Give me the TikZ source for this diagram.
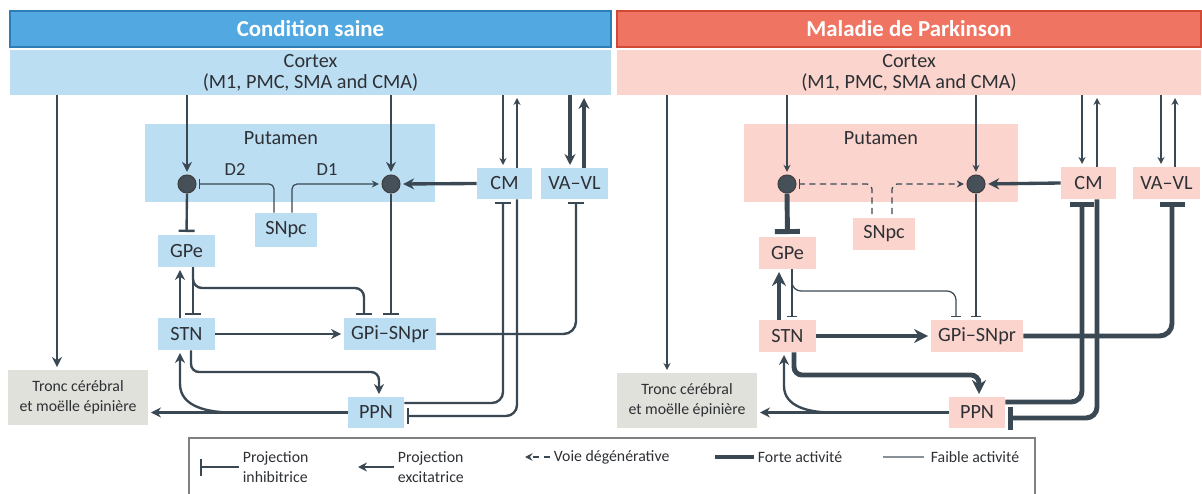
\documentclass[tikz,border=0pt]{standalone}
\usepackage{fontspec}
\setmainfont{Carlito}
\usetikzlibrary{arrows.meta}

\definecolor{bleuFonce}{RGB}{82,168,224}
\definecolor{bleuBord}{RGB}{47,125,181}
\definecolor{bleuClair}{RGB}{188,222,243}
\definecolor{rougeFonce}{RGB}{240,116,98}
\definecolor{rougeBord}{RGB}{208,74,54}
\definecolor{roseClair}{RGB}{250,212,205}
\definecolor{grisBoite}{RGB}{225,225,219}
\definecolor{grisCadre}{RGB}{128,128,128}
\definecolor{trait}{RGB}{58,72,83}
\definecolor{texte}{RGB}{45,48,52}
\definecolor{neurone}{RGB}{70,80,88}

\tikzset{
  titre/.style 2 args={fill=#1, draw=#2, line width=0.8pt, text=white, inner sep=0pt,
    font=\fontsize{13pt}{15pt}\selectfont\bfseries},
  zone/.style={fill=#1, inner sep=0pt, align=center, text=texte,
    font=\fontsize{11.5pt}{12pt}\selectfont},
  taille/.style 2 args={minimum width=#1*0.02cm, minimum height=#2*0.02cm},
  etiq/.style={inner sep=0pt, text=texte, font=\fontsize{11.5pt}{12pt}\selectfont},
  tronc/.style={zone=grisBoite, font=\fontsize{9pt}{11.3pt}\selectfont},
  legende/.style={inner sep=2pt, align=left, text=texte, font=\fontsize{9pt}{11.3pt}\selectfont},
  neurone/.style={circle, fill=neurone, draw=black!75, line width=0.6pt,
    minimum size=0.36cm, inner sep=0pt},
  % line weights
  faible/.style={draw=trait, line width=0.7pt},
  moyen/.style={draw=trait, line width=1.35pt},
  fort/.style={draw=trait, line width=1.9pt},
  tresfort/.style={draw=trait, line width=2.8pt},
  pointille/.style={dash pattern=on 3.5pt off 2.5pt},
  % projections
  exc/.style={-{Stealth[length=#1, width=#1]}, shorten >=1.5pt},
  exc/.default=0.2cm,
  inh/.style={-{Bar[width=#1]}, shorten >=1.5pt},
  inh/.default=0.32cm
}

\begin{document}
\begin{tikzpicture}[x=0.02cm, y=-0.02cm]
  \useasboundingbox (0,0) rectangle (1202,493);

  % ================= Condition saine =================
  \node[titre={bleuFonce}{bleuBord}, taille={601}{36}] (titreL) at (310.5,29) {Condition saine};
  \node[zone=bleuClair, taille={601}{45}] (ctxL) at (310.5,72.5) {Cortex\\(M1, PMC, SMA and CMA)};
  \node[zone=bleuClair, taille={290}{78}] (putL) at (290,163) {};
  \node[etiq] (putLlab) at (281,138) {Putamen};
  \node[neurone] (nL1) at (187,184) {};
  \node[neurone] (nL2) at (391,184) {};
  \node[etiq, font=\fontsize{10.5pt}{12pt}\selectfont] (d2L) at (235,170) {D2};
  \node[etiq, font=\fontsize{10.5pt}{12pt}\selectfont] (d1L) at (327,170) {D1};
  \node[zone=bleuClair, taille={62}{34}] (snpcL) at (286,230) {SNpc};
  \node[zone=bleuClair, taille={55}{31}] (cmL) at (504.5,183.5) {CM};
  \node[zone=bleuClair, taille={67}{31}] (vavlL) at (574.5,183.5) {VA–VL};
  \node[zone=bleuClair, taille={57}{32}] (gpeL) at (186.5,251) {GPe};
  \node[zone=bleuClair, taille={57}{32}] (stnL) at (186.5,334) {STN};
  \node[zone=bleuClair, taille={92}{32}] (gpiL) at (390,334) {GPi–SNpr};
  \node[tronc, taille={140}{55}] (troncL) at (78,397.5) {Tronc cérébral\\et moëlle épinière};
  \node[zone=bleuClair, taille={56}{31}] (ppnL) at (376,412.5) {PPN};

  % x positions of the lines
  \coordinate (xTrL) at (57,0);
  \coordinate (xD2L) at (274,0);
  \coordinate (xD1L) at (292,0);
  \coordinate (xCmLa) at (503,0);
  \coordinate (xCmLb) at (517,0);
  \coordinate (xVaLa) at (570,0);
  \coordinate (xVaLb) at (584,0);
  \coordinate (xVaLc) at (576,0);
  \coordinate (xMontL) at (180,0);
  \coordinate (xDescL) at (193,0);
  \coordinate (xPpnL) at (191,0);
  \coordinate (coudeL) at (364,288);
  \coordinate (vPpnL) at (379,372);
  \coordinate (brL) at (232,412.5);
  \coordinate (kL) at (180,384);

  % cortex
  \draw[moyen, exc] (ctxL.south -| xTrL) -- (troncL.north -| xTrL);
  \draw[moyen, exc] (ctxL.south -| nL1) -- (nL1.north);
  \draw[moyen, exc] (ctxL.south -| nL2) -- (nL2.north);

  % dopamine
  \draw[faible, inh=0.2cm, rounded corners=0.1cm] (snpcL.north -| xD2L) |- (nL1.east);
  \draw[faible, exc=0.14cm, rounded corners=0.1cm] (snpcL.north -| xD1L) |- (nL2.west);

  % thalamus
  \draw[fort, exc=0.22cm] (cmL.west) -- (nL2.east);
  \draw[faible, exc=0.14cm] (ctxL.south -| xCmLa) -- (cmL.north -| xCmLa);
  \draw[faible, exc=0.14cm] (cmL.north -| xCmLb) -- (ctxL.south -| xCmLb);
  \draw[fort, exc=0.22cm] (ctxL.south -| xVaLa) -- (vavlL.north -| xVaLa);
  \draw[fort, exc=0.22cm] (vavlL.north -| xVaLb) -- (ctxL.south -| xVaLb);

  % striatum, GPe, STN, GPi
  \draw[moyen, inh] (nL1.south) -- (gpeL.north);
  \draw[moyen, inh] (nL2.south) -- (gpiL.north -| nL2);
  \draw[moyen, exc] (stnL.north -| xMontL) -- (gpeL.south -| xMontL);
  \draw[moyen, inh] (gpeL.south -| xDescL) -- (stnL.north -| xDescL);
  \draw[moyen, inh, rounded corners=0.18cm] (gpeL.south -| xDescL) |- (coudeL) -- (gpiL.north -| coudeL);
  \draw[moyen, exc] (stnL.east) -- (gpiL.west);
  \draw[moyen, inh, rounded corners=0.25cm] (gpiL.east) -| (vavlL.south -| xVaLc);

  % PPN
  \draw[moyen, exc, rounded corners=0.16cm] (stnL.south -| xPpnL) |- (vPpnL) -- (ppnL.north -| vPpnL);
  \draw[moyen, exc] (ppnL.west) -- (ppnL.west -| troncL.east);
  \draw[moyen, exc] (brL) to[out=180, in=-90] (kL) -- (stnL.south -| kL);
  \draw[moyen, inh, rounded corners=0.22cm] ([yshift=0.19cm]ppnL.east) -| (cmL.south -| xCmLa);
  \draw[moyen, inh, rounded corners=0.22cm] (cmL.south -| xCmLb) |- ([yshift=-0.07cm]ppnL.east);

  % ================= Maladie de Parkinson =================
  \node[titre={rougeFonce}{rougeBord}, taille={584}{36}] (titreR) at (909,29) {Maladie de Parkinson};
  \node[zone=roseClair, taille={584}{45}] (ctxR) at (909,72.5) {Cortex\\(M1, PMC, SMA and CMA)};
  \node[zone=roseClair, taille={274}{78}] (putR) at (881,163) {};
  \node[etiq] (putRlab) at (881,138) {Putamen};
  \node[neurone] (nR1) at (787,184) {};
  \node[neurone] (nR2) at (976,184) {};
  \node[zone=roseClair, taille={62}{32}] (snpcR) at (884,234) {SNpc};
  \node[zone=roseClair, taille={55}{32}] (cmR) at (1088.5,183) {CM};
  \node[zone=roseClair, taille={67}{32}] (vavlR) at (1166.5,183) {VA–VL};
  \node[zone=roseClair, taille={57}{32}] (gpeR) at (787.5,253) {GPe};
  \node[zone=roseClair, taille={57}{32}] (stnR) at (787.5,336) {STN};
  \node[zone=roseClair, taille={92}{32}] (gpiR) at (977,336) {GPi–SNpr};
  \node[tronc, taille={140}{55}] (troncR) at (687,400.5) {Tronc cérébral\\et moëlle épinière};
  \node[zone=roseClair, taille={56}{31}] (ppnR) at (977,412.5) {PPN};

  % x positions of the lines
  \coordinate (xTrR) at (667,0);
  \coordinate (xD2R) at (872,0);
  \coordinate (xD1R) at (892,0);
  \coordinate (xCmRa) at (1082,0);
  \coordinate (xCmRb) at (1097,0);
  \coordinate (xVaRa) at (1161,0);
  \coordinate (xVaRb) at (1175,0);
  \coordinate (xVaRc) at (1172,0);
  \coordinate (xMontR) at (779,0);
  \coordinate (xDescR) at (792,0);
  \coordinate (xPpnR) at (794,0);
  \coordinate (coudeR) at (956,291);
  \coordinate (vPpnR) at (979,375);
  \coordinate (brR) at (832,412.5);
  \coordinate (kR) at (784,386);

  % cortex
  \draw[faible, exc=0.14cm] (ctxR.south -| xTrR) -- (troncR.north -| xTrR);
  \draw[faible, exc=0.14cm] (ctxR.south -| nR1) -- (nR1.north);
  \draw[faible, exc=0.14cm] (ctxR.south -| nR2) -- (nR2.north);

  % degenerated dopamine pathway
  \draw[faible, pointille, inh=0.2cm, rounded corners=0.1cm, shorten <=2pt] (snpcR.north -| xD2R) |- (nR1.east);
  \draw[faible, pointille, exc=0.14cm, rounded corners=0.1cm, shorten <=2pt] (snpcR.north -| xD1R) |- (nR2.west);

  % thalamus
  \draw[fort, exc=0.22cm] (cmR.west) -- (nR2.east);
  \draw[faible, exc=0.14cm] (ctxR.south -| xCmRa) -- (cmR.north -| xCmRa);
  \draw[faible, exc=0.14cm] (cmR.north -| xCmRb) -- (ctxR.south -| xCmRb);
  \draw[faible, exc=0.14cm] (ctxR.south -| xVaRa) -- (vavlR.north -| xVaRa);
  \draw[faible, exc=0.14cm] (vavlR.north -| xVaRb) -- (ctxR.south -| xVaRb);

  % striatum, GPe, STN, GPi
  \draw[tresfort, inh=0.5cm] (nR1.south) -- (gpeR.north);
  \draw[faible, inh=0.2cm] (nR2.south) -- (gpiR.north -| nR2);
  \draw[tresfort, exc=0.28cm] (stnR.north -| xMontR) -- (gpeR.south -| xMontR);
  \draw[faible, inh=0.2cm] (gpeR.south -| xDescR) -- (stnR.north -| xDescR);
  \draw[faible, inh=0.2cm, rounded corners=0.18cm] (gpeR.south -| xDescR) |- (coudeR) -- (gpiR.north -| coudeR);
  \draw[tresfort, exc=0.28cm] (stnR.east) -- (gpiR.west);
  \draw[tresfort, inh=0.5cm, rounded corners=0.25cm] (gpiR.east) -| (vavlR.south -| xVaRc);

  % PPN
  \draw[tresfort, exc=0.28cm, rounded corners=0.16cm] (stnR.south -| xPpnR) |- (vPpnR) -- (ppnR.north -| vPpnR);
  \draw[moyen, exc] (ppnR.west) -- (ppnR.west -| troncR.east);
  \draw[moyen, exc] (brR) to[out=180, in=-90] (kR) -- (stnR.south -| kR);
  \draw[tresfort, inh=0.48cm, rounded corners=0.22cm] ([yshift=0.21cm]ppnR.east) -| (cmR.south -| xCmRa);
  \draw[tresfort, inh=0.46cm, rounded corners=0.22cm] (cmR.south -| xCmRb) |- ([yshift=-0.11cm]ppnR.east);

  % ================= legend =================
  \draw[grisCadre, line width=0.9pt] (189,500) -- (189,438) -- (1035,438) -- (1035,500);

  \node[legende, anchor=west] (legInh) at (239,467) {Projection\\inhibitrice};
  \coordinate (legInhBout) at (200,467);
  \draw[moyen, -{Bar[width=0.34cm]}] (legInh.west) -- (legInhBout);

  \node[legende, anchor=west] (legExc) at (394,467) {Projection\\excitatrice};
  \coordinate (legExcBout) at (358,467);
  \draw[moyen, -{Stealth[length=0.18cm, width=0.18cm]}] (legExc.west) -- (legExcBout);

  \node[legende, anchor=west] (legDeg) at (550,457) {Voie dégénérative};
  \coordinate (legDegBout) at (525,457);
  \draw[moyen, pointille, -{Stealth[length=0.15cm, width=0.15cm]}] (legDeg.west) -- (legDegBout);

  \node[legende, anchor=west] (legFort) at (754,457) {Forte activité};
  \coordinate (legFortBout) at (715,457);
  \draw[tresfort] (legFort.west) -- (legFortBout);

  \node[legende, anchor=west] (legFaib) at (927,457) {Faible activité};
  \coordinate (legFaibBout) at (883,457);
  \draw[faible, draw=trait!60, shorten <=2pt] (legFaib.west) -- (legFaibBout);
\end{tikzpicture}
\end{document}
